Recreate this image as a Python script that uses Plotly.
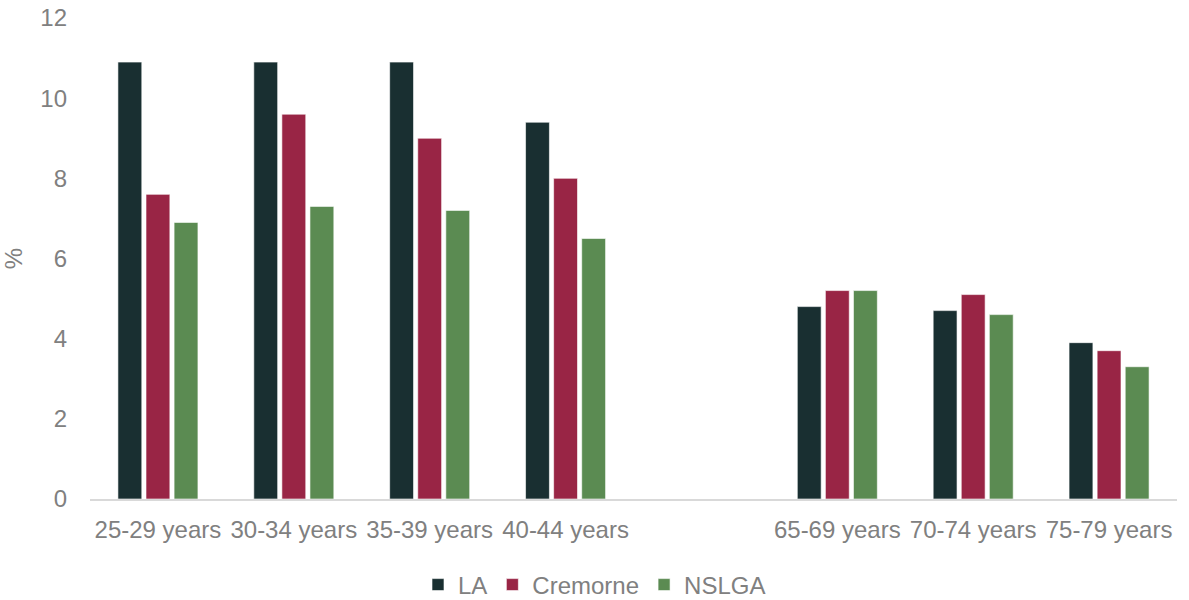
import plotly.graph_objects as go

categories = ["25-29 years", "30-34 years", "35-39 years", "40-44 years", " ",
              "65-69 years", "70-74 years", "75-79 years"]
la = [10.9, 10.9, 10.9, 9.4, None, 4.8, 4.7, 3.9]
cremorne = [7.6, 9.6, 9.0, 8.0, None, 5.2, 5.1, 3.7]
nslga = [6.9, 7.3, 7.2, 6.5, None, 5.2, 4.6, 3.3]
y_ticks = [0, 2, 4, 6, 8, 10, 12]

series = [("LA", la, "#192f31"), ("Cremorne", cremorne, "#992545"), ("NSLGA", nslga, "#5b8b52")]

fig = go.Figure()
for name, vals, col in series:
    fig.add_trace(go.Bar(x=categories, y=vals, name=name,
                         marker=dict(color=col, line=dict(color="rgba(255,255,255,0.6)", width=1))))

font_family = "Liberation Sans, Arial, sans-serif"
grey = "#808080"
fig.update_layout(
    width=1189, height=600,
    margin=dict(l=90, r=12, t=18, b=101, autoexpand=False),
    paper_bgcolor="white", plot_bgcolor="white",
    barmode="group", bargap=0.38, bargroupgap=0.15,
    font=dict(family=font_family, size=24, color=grey),
    showlegend=True,
    legend=dict(orientation="h", xref="container", x=0.5, xanchor="center",
                yref="container", y=15 / 600, yanchor="middle",
                font=dict(size=24, color=grey), itemwidth=30, traceorder="normal"),
    xaxis=dict(type="category", categoryorder="array", categoryarray=categories,
               showline=True, linecolor="#d9d9d9", linewidth=2, showgrid=False,
               ticks="", tickfont=dict(size=24, color=grey), ticklabelstandoff=8),
    yaxis=dict(range=[0, 12], tickvals=y_ticks, showgrid=False, zeroline=False,
               showline=False, ticks="", tickfont=dict(size=24, color=grey),
               ticklabelstandoff=22,
               title=dict(text="%", font=dict(size=24, color=grey), standoff=14)),
)
fig.write_html("out.html")
